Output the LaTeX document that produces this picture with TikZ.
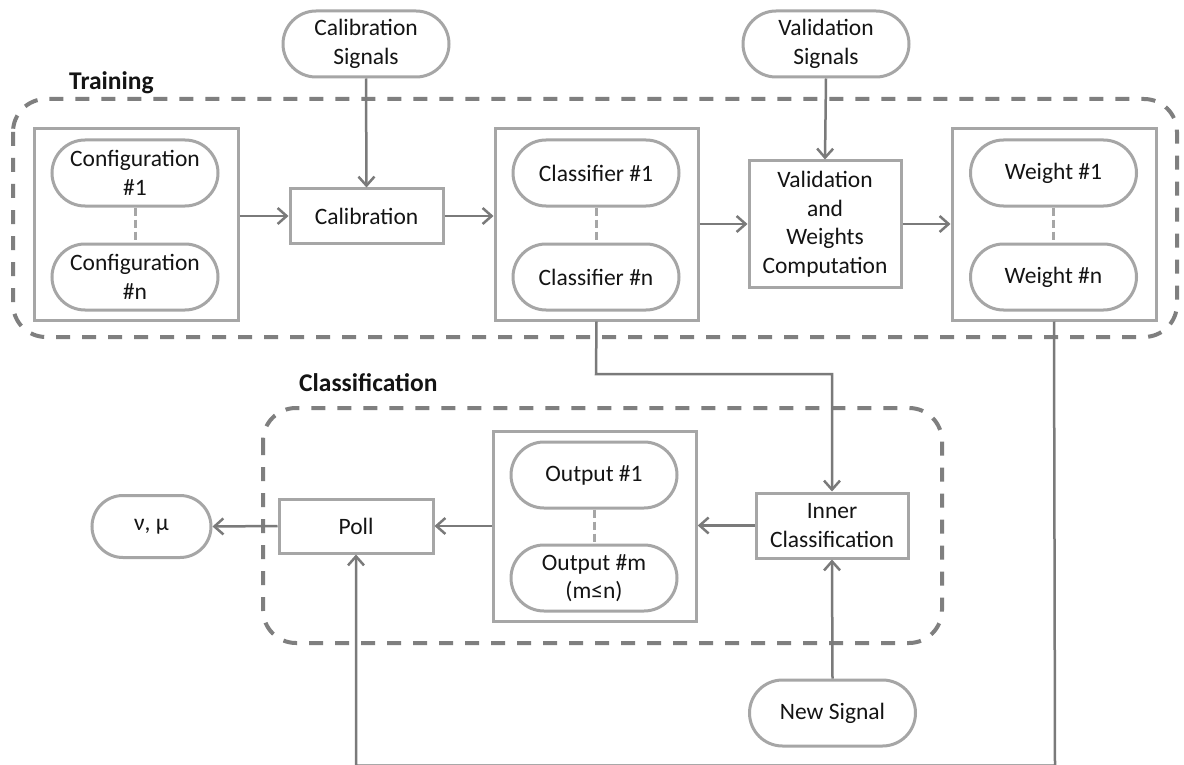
\documentclass[tikz,border=0pt]{standalone}
\usepackage{fontspec}
\setmainfont{Carlito}
\usetikzlibrary{arrows.meta}
\definecolor{boxgray}{HTML}{A6A6A6}
\definecolor{arrgray}{HTML}{7A7A7A}
\definecolor{dashgray}{HTML}{7F7F7F}
\definecolor{txt}{HTML}{141414}
\begin{document}
\begin{tikzpicture}[x=1pt,y=-1pt,
  every node/.style={font=\fontsize{23.5}{28.5}\selectfont, text=txt, align=center, inner sep=0pt},
  oval/.style={draw=boxgray, line width=3pt, rounded corners=33pt, minimum width=166pt, minimum height=66pt, fill=white},
  proc/.style={draw=boxgray, line width=3pt, fill=white},
  group/.style={draw=boxgray, line width=3pt},
  container/.style={draw=dashgray, line width=4pt, dash pattern=on 14pt off 12pt, rounded corners=33pt},
  arr/.style={draw=arrgray, line width=2.5pt, -{Straight Barb[length=9pt,width=16pt]}},
  link/.style={draw=arrgray, line width=2.5pt},
  dots/.style={draw=boxgray, line width=3pt, dash pattern=on 8pt off 4pt},
  grouplabel/.style={font=\bfseries\fontsize{25.5}{30}\selectfont, anchor=base west}
]
\useasboundingbox (0,0) rectangle (1184,765);
\fill[white] (0,0) rectangle (1184,765);

% containers
\draw[container] (13,99) rectangle (1177,337);
\draw[container] (263,408) rectangle (942,643);
\node[grouplabel] (trainlbl) at (69,90) {Training};
\node[grouplabel] (classlbl) at (299,391) {Classification};

% training row
\node[oval] (calsig) at (366,44) {Calibration\\Signals};
\node[oval] (valsig) at (826,44) {Validation\\Signals};

\node[group, minimum width=204pt, minimum height=191pt] (cfgbox) at (136,224.5) {};
\node[oval] (cfg1) at (135,173) {Configuration\\\#1};
\node[oval] (cfgn) at (135,277) {Configuration\\\#n};
\draw[dots] (cfg1.south) -- (cfgn.north);

\node[proc, minimum width=153pt, minimum height=54pt] (calib) at (366.5,216) {Calibration};

\node[group, minimum width=203pt, minimum height=191pt] (clsbox) at (596.5,224.5) {};
\node[oval] (cls1) at (596,173) {Classifier \#1};
\node[oval] (clsn) at (596,277) {Classifier \#n};
\draw[dots] (cls1.south) -- (clsn.north);

\node[proc, minimum width=152pt, minimum height=126pt] (valid) at (825,224) {Validation\\and\\Weights\\Computation};

\node[group, minimum width=204pt, minimum height=191pt] (wbox) at (1054,224.5) {};
\node[oval] (w1) at (1053.5,173) {Weight \#1};
\node[oval] (wn) at (1053.5,277) {Weight \#n};
\draw[dots] (w1.south) -- (wn.north);

% classification row
\node[oval, minimum width=119pt, minimum height=62pt, rounded corners=31pt] (vmu) at (151.5,526.5) {ν, μ};
\node[proc, minimum width=154pt, minimum height=54pt] (poll) at (356,526) {Poll};
\node[group, minimum width=203pt, minimum height=190pt] (outbox) at (594.75,526) {};
\node[oval] (out1) at (594,475) {Output \#1};
\node[oval] (outm) at (594,578) {Output \#m\\(m≤n)};
\draw[dots] (out1.south) -- (outm.north);
\node[proc, minimum width=152pt, minimum height=65pt] (inner) at (832,525.5) {Inner\\Classification};
\node[oval] (newsig) at (832.5,713) {New Signal};

% connectors
\draw[arr] (calsig.south) -- (calib.north);
\draw[arr] (valsig.south) -- (valid.north);
\draw[arr] (cfgbox.east |- calib.west) -- (calib.west);
\draw[arr] (calib.east) -- (calib.east -| clsbox.west);
\draw[arr] (clsbox.east |- valid.west) -- (valid.west);
\draw[arr] (valid.east) -- (valid.east -| wbox.west);
\coordinate (c1) at (596,374);
\draw[arr] (clsbox.south) -- (c1) -| (inner.north);
\draw[arr] (newsig.north) -- (inner.south);
\draw[arr] (inner.west) -- (inner.west -| outbox.east);
\draw[arr] (outbox.west |- poll.east) -- (poll.east);
\draw[arr] (poll.west) -- (vmu.east);
\coordinate (b1) at (1055,765.5);
\draw[arr] (wbox.south) -- (b1) -| (poll.south);
\end{tikzpicture}
\end{document}
